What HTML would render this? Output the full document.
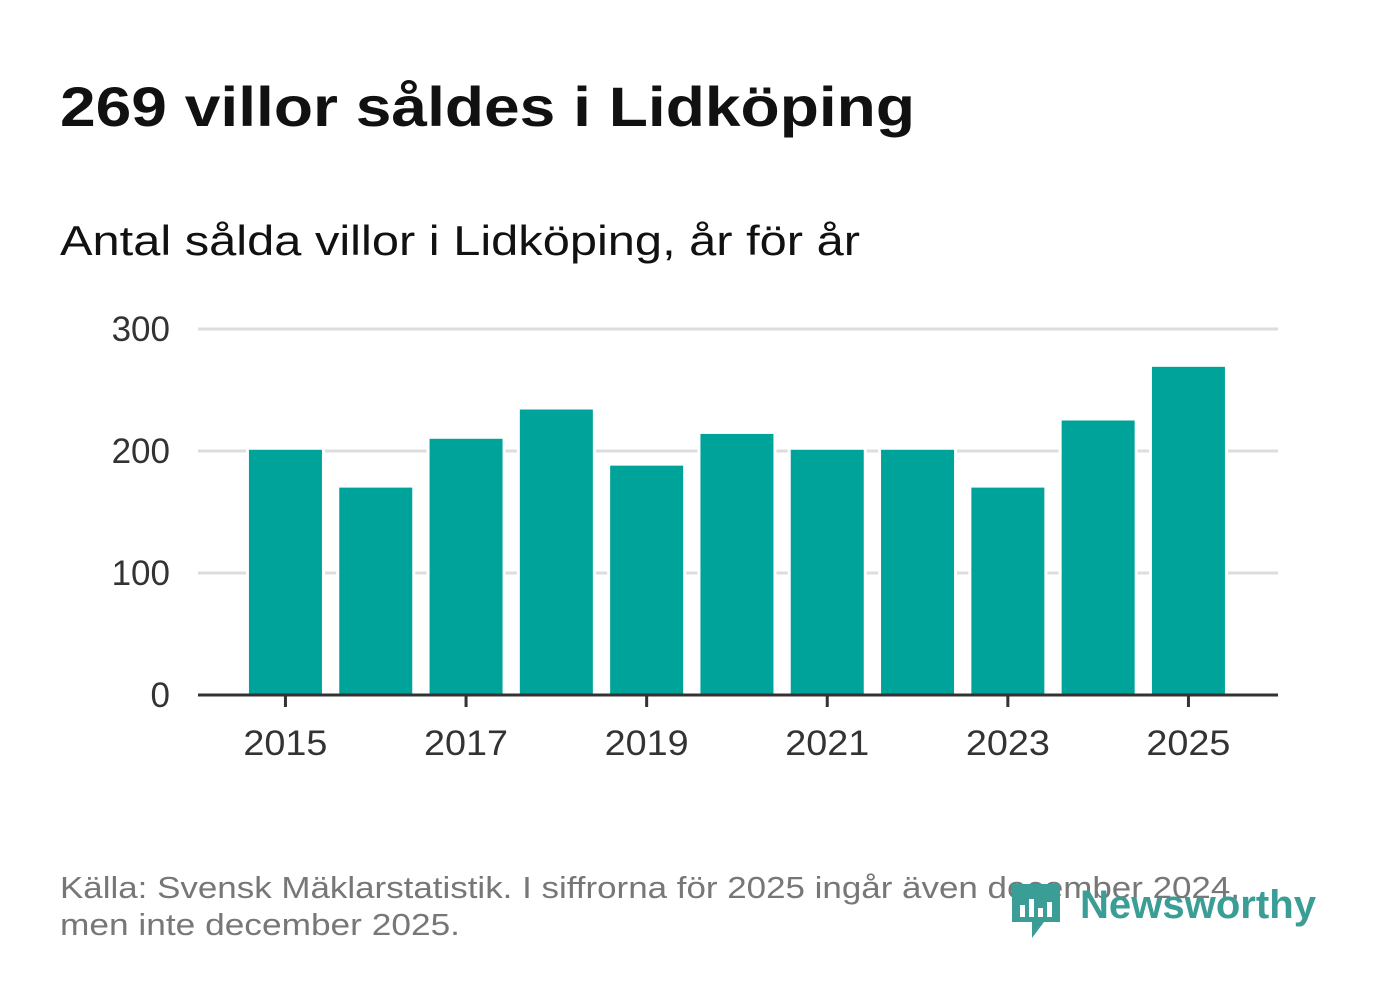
<!DOCTYPE html>
<html><head><meta charset="utf-8"><style>
body{margin:0;background:#fff;width:1382px;height:999px;overflow:hidden;font-family:"Liberation Sans",sans-serif;}
</style></head><body>
<svg width="1382" height="999">
<text x="60" y="126" font-size="56" font-weight="bold" fill="#111" textLength="855" lengthAdjust="spacingAndGlyphs">269 villor såldes i Lidköping</text>
<text x="60" y="255" font-size="42" fill="#111" textLength="800" lengthAdjust="spacingAndGlyphs">Antal sålda villor i Lidköping, år för år</text>
<g id="grid"></g><g id="bars"></g><g id="axes"></g>
<text x="60" y="898" font-size="31" fill="#777" textLength="1180" lengthAdjust="spacingAndGlyphs">Källa: Svensk Mäklarstatistik. I siffrorna för 2025 ingår även december 2024,</text>
<text x="60" y="935" font-size="31" fill="#777" textLength="400" lengthAdjust="spacingAndGlyphs">men inte december 2025.</text>
<g>
<path d="M1012 884 h48 v38 h-16 l-12 16 v-16 h-20 z" fill="#3a9e96"/>
<rect x="1020" y="905" width="5" height="12" fill="#fff"/><rect x="1029" y="899" width="5" height="18" fill="#fff"/><rect x="1038" y="908" width="5" height="9" fill="#fff"/><rect x="1047" y="902" width="5" height="15" fill="#fff"/>
<text x="1080" y="918" font-size="40" font-weight="bold" fill="#3a9e96" textLength="236" lengthAdjust="spacingAndGlyphs">Newsworthy</text>
</g>
</svg>
<script>
const years=[2015,2016,2017,2018,2019,2020,2021,2022,2023,2024,2025];
const values=[201,170,210,234,188,214,201,201,170,225,269];
const yTicks=[0,100,200,300];
const xLabels=[2015,2017,2019,2021,2023,2025];
const ns="http://www.w3.org/2000/svg";
const x0=198,x1=1278,bandStart=240.3,step=90.3,y0=695,yTop=329,yMax=300;
const xc=i=>bandStart+step*(i+0.5);
const y=v=>y0-(y0-yTop)*v/yMax;
function mk(t,a,p){const e=document.createElementNS(ns,t);for(const k in a)e.setAttribute(k,a[k]);p.appendChild(e);return e;}
const g=document.getElementById('grid'),b=document.getElementById('bars'),ax=document.getElementById('axes');
yTicks.forEach(v=>{
 if(v>0){const l=mk('line',{x1:x0,x2:x1,y1:y(v),y2:y(v),stroke:'#ddd','stroke-width':3},g);
 
 }
 const t=mk('text',{x:170,y:y(v)+12,'font-size':35,fill:'#333','text-anchor':'end'},ax);t.textContent=v;
 
 
});
values.forEach((v,i)=>{
 const r=mk('rect',{x:xc(i)-36.5,y:y(v),width:73,height:y0-y(v),fill:'#00a39a',stroke:'#fff','stroke-width':6,'paint-order':'stroke'},b);
 
 
});
const al=mk('line',{x1:x0,x2:x1,y1:y0,y2:y0,stroke:'#333','stroke-width':3},ax);


xLabels.forEach(yr=>{
 const i=years.indexOf(yr);
 mk('line',{x1:xc(i),x2:xc(i),y1:y0,y2:y0+12,stroke:'#333','stroke-width':3},ax);
 const t=mk('text',{x:xc(i),y:755,'font-size':35,fill:'#333','text-anchor':'middle',textLength:84,lengthAdjust:'spacingAndGlyphs'},ax);t.textContent=yr;
 
 
});
</script>
</body></html>
